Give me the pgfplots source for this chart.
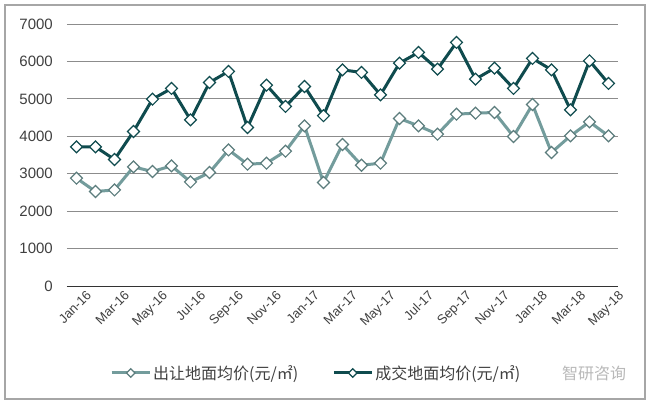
\documentclass[border=0pt]{standalone}
\usepackage{fontspec}
\setmainfont{Liberation Sans}
\newfontfamily\cjk{Noto Sans CJK SC}
\usepackage{pgfplots}
\pgfplotsset{compat=1.18}
\definecolor{darkser}{HTML}{0F4B4E}
\definecolor{lightser}{HTML}{739C9C}
\definecolor{gridc}{HTML}{8C8C8C}
\definecolor{txt}{HTML}{404040}
\begin{document}
\begin{tikzpicture}
\useasboundingbox (0pt,0pt) rectangle (650pt,405pt);
\fill[white] (0pt,0pt) rectangle (650pt,405pt);
\draw[gray!70, line width=1.5pt] (5pt,6pt) rectangle (645pt,400pt);
\begin{axis}[
  at={(67pt,119pt)}, anchor=south west,
  scale only axis, width=551pt, height=262pt,
  xmin=-0.5, xmax=28.5, ymin=0, ymax=7000,
  xtick={0,2,...,28},
  xticklabels={Jan-16,Mar-16,May-16,Jul-16,Sep-16,Nov-16,Jan-17,Mar-17,May-17,Jul-17,Sep-17,Nov-17,Jan-18,Mar-18,May-18},
  x tick label style={rotate=45, anchor=north east, font=\fontsize{13}{13}\selectfont, text=txt, inner sep=0pt, xshift=4pt, yshift=-9pt},
  ytick={0,1000,...,7000},
  y tick label style={font=\fontsize{15}{15}\selectfont, text=txt, inner sep=0pt, xshift=-14pt},
  /pgf/number format/assume math mode=true,
  /pgf/number format/1000 sep={},
  ymajorgrids, grid style={gridc, line width=0.9pt},
  major tick length=0pt,
  axis x line*=bottom, axis y line*=left, y axis line style={draw=none},
  x axis line style={black!80, line width=1pt, -},
  legend style={at={(0.078,-0.332)}, anchor=west, draw=none, fill=none, inner sep=0pt,
     legend columns=2, font=\cjk\fontsize{16}{16}\selectfont, text=txt,
     /tikz/every even column/.append style={column sep=32pt}},
  legend image code/.code={\draw[mark repeat=2,mark phase=2,#1,mark size=3pt] plot coordinates {(0pt,0pt)(19pt,0pt)(38pt,0pt)};},
  clip=false,
]
\addplot[lightser, line width=3pt, mark=square*, mark size=4.2pt,
  mark options={rotate=45, fill=white, draw=lightser!80!black, line width=1.2pt}]
coordinates {
(0,2880)(1,2524)(2,2567)(3,3182)(4,3059)(5,3209)(6,2781)(7,3032)(8,3636)(9,3254)(10,3281)(11,3602)(12,4278)(13,2765)
(14,3780)(15,3227)(16,3281)(17,4476)(18,4278)(19,4056)(20,4591)(21,4618)(22,4636)(23,3995)(24,4850)(25,3567)(26,4011)(27,4385)(28,4011)};
\addlegendentry{出让地面均价(元/㎡)}
\addplot[darkser, line width=3pt, mark=square*, mark size=4.2pt,
  mark options={rotate=45, fill=white, draw=darkser, line width=1.2pt}]
coordinates {
(0,3717)(1,3717)(2,3380)(3,4128)(4,4992)(5,5278)(6,4439)(7,5438)(8,5733)(9,4235)(10,5366)(11,4797)(12,5331)(13,4550)
(14,5775)(15,5706)(16,5107)(17,5955)(18,6240)(19,5794)(20,6508)(21,5527)(22,5821)(23,5278)(24,6080)(25,5775)(26,4706)(27,6016)(28,5412)};
\addlegendentry{成交地面均价(元/㎡)}
\end{axis}
\node[anchor=center, text=gray!55, font=\cjk\fontsize{16}{16}\selectfont] at (594pt,32pt) {智研咨询};
\end{tikzpicture}
\end{document}
